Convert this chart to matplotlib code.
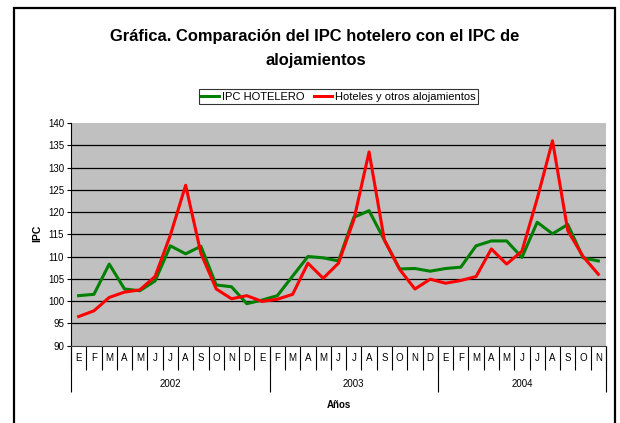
import numpy as np
import matplotlib.pyplot as plt
from matplotlib.patches import Rectangle
from matplotlib.transforms import blended_transform_factory

# data
months = ["E", "F", "M", "A", "M", "J", "J", "A", "S", "O", "N", "D", "E",
          "F", "M", "A", "M", "J", "J", "A", "S", "O", "N", "D",
          "E", "F", "M", "A", "M", "J", "J", "A", "S", "O", "N"]
years = ["2002", "2003", "2004"]
year_sizes = [13, 11, 11]

ipc_hotelero = [101.2, 101.5, 108.3, 102.7, 102.3, 104.5, 112.4, 110.6, 112.3, 103.6,
                103.2, 99.4, 100.2, 101.2, 105.6, 110.0, 109.7, 109.0, 118.8, 120.3,
                113.7, 107.2, 107.3, 106.7, 107.3, 107.6, 112.4, 113.5, 113.5, 109.8,
                117.7, 115.1, 117.2, 109.7, 109.0]
hoteles_otros = [96.5, 97.8, 100.8, 102.0, 102.5, 105.5, 114.8, 126.0, 110.7, 102.7,
                 100.5, 101.2, 99.9, 100.4, 101.5, 108.5, 105.1, 108.5, 118.2, 133.5,
                 113.7, 107.1, 102.7, 104.9, 104.0, 104.6, 105.5, 111.7, 108.3, 111.2,
                 123.0, 136.0, 115.8, 110.0, 106.0]

W, H = 620, 423
fig = plt.figure(figsize=(W / 100, H / 100), dpi=100)
plt.rcParams['font.family'] = ['Liberation Sans', 'DejaVu Sans']

ax_l, ax_r, ax_t, ax_b = 71, 606, 123, 345.5
ax = fig.add_axes([ax_l / W, 1 - ax_b / H, (ax_r - ax_l) / W, (ax_b - ax_t) / H])
ax.set_facecolor('#c0c0c0')

x = np.arange(len(months))
ax.plot(x, ipc_hotelero, color='#008000', lw=2.2, label='IPC HOTELERO', zorder=3)
ax.plot(x, hoteles_otros, color='#ff0000', lw=2.2, label='Hoteles y otros alojamientos', zorder=3)

ax.set_xlim(-0.5, len(months) - 0.5)
ax.set_ylim(90, 140)
ax.set_yticks(np.arange(90, 141, 5))
for v in range(95, 140, 5):
    ax.axhline(v, color='black', lw=0.9, zorder=1)
ax.tick_params(axis='y', labelsize=7, length=3, width=0.8, pad=2)
ax.set_xticks([])
for s in ['top', 'right']:
    ax.spines[s].set_visible(False)
ax.spines['left'].set_linewidth(0.8)
ax.spines['bottom'].set_linewidth(0.8)
ax.spines['bottom'].set_color('#404040')

# category axis: months and years below the plot
ph = ax_b - ax_t
tr = blended_transform_factory(ax.transData, ax.transAxes)
ax.vlines(np.arange(-0.5, len(months)), 0, -24 / ph, transform=tr, color='black',
          lw=0.8, clip_on=False)
for i, m in enumerate(months):
    ax.text(i, -12 / ph, m, transform=tr, ha='center', va='center', fontsize=7)
edges = np.concatenate([[0], np.cumsum(year_sizes)]) - 0.5
ax.vlines(edges, 0, -46.5 / ph, transform=tr, color='black', lw=0.8, clip_on=False)
for k, yr in enumerate(years):
    ax.text((edges[k] + edges[k + 1]) / 2, -38 / ph, yr, transform=tr,
            ha='center', va='center', fontsize=7)
ax.text((len(months) - 1) / 2, -59 / ph, 'Años', transform=tr, ha='center', va='center',
        fontsize=7, fontweight='bold')

fig.text(37 / W, 1 - 233 / H, 'IPC', rotation=90, ha='center', va='center',
         fontsize=7.5, fontweight='bold')

fig.text(315 / W, 1 - 37 / H, 'Gráfica. Comparación del IPC hotelero con el IPC de',
         ha='center', va='center', fontsize=11.9, fontweight='bold')
fig.text(316 / W, 1 - 60 / H, 'alojamientos', ha='center', va='center',
         fontsize=11.9, fontweight='bold')

leg = fig.legend(loc='center', bbox_to_anchor=(338.5 / W, 1 - 96.5 / H), ncol=2,
                 fontsize=8, frameon=True, fancybox=False, borderpad=0.2,
                 handlelength=1.6, handletextpad=0.3, columnspacing=0.8)
leg.get_frame().set_edgecolor('black')
leg.get_frame().set_linewidth(0.8)

fig.patches.append(Rectangle((14 / W, -0.02), (615 - 14) / W, 1 - 8 / H + 0.02,
                             transform=fig.transFigure, fill=False, edgecolor='black',
                             lw=1.6))

fig.savefig('out.png', dpi=100)
